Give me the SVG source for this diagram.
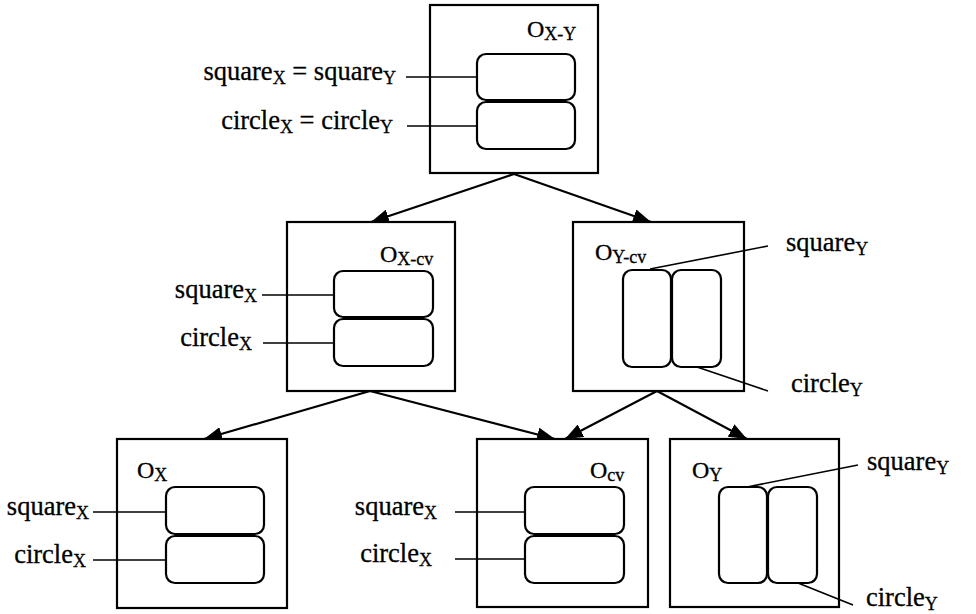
<svg xmlns="http://www.w3.org/2000/svg" width="976" height="614" viewBox="0 0 976 614">
  <style>
    .box { fill: #fff; stroke: #000; stroke-width: 2.2; }
    .slot { fill: #fff; stroke: #000; stroke-width: 2.2; }
    .lead { stroke: #000; stroke-width: 1.6; fill: none; }
    .edge { stroke: #000; stroke-width: 2.2; fill: none; marker-end: url(#head); }
    text { font-family: "Liberation Serif", "Times New Roman", serif; font-size: 26.5px; fill: #000; stroke: #000; stroke-width: 0.3; }
    .name { font-size: 24px; }
    .sub { font-size: 18px; }
    .end { text-anchor: end; }
  </style>
  <defs>
    <marker id="head" markerUnits="userSpaceOnUse" markerWidth="18" markerHeight="14" refX="18" refY="7" orient="auto">
      <path d="M0,0 L18,7 L0,14 z" fill="#000"/>
    </marker>
  </defs>

  <rect width="976" height="614" fill="#fff"/>

  <!-- connectors -->
  <g id="connectors">
    <line class="edge" x1="514" y1="174" x2="371" y2="222"/>
    <line class="edge" x1="514" y1="174" x2="651" y2="222"/>
    <line class="edge" x1="370" y1="391" x2="204" y2="439"/>
    <line class="edge" x1="370" y1="391" x2="555" y2="439"/>
    <line class="edge" x1="657" y1="391" x2="565" y2="439"/>
    <line class="edge" x1="657" y1="391" x2="747" y2="439"/>
  </g>

  <!-- O X-Y -->
  <g id="node-oxy">
    <rect class="box" x="430" y="5" width="168" height="168"/>
    <rect class="slot" x="477" y="54" width="98" height="46" rx="9"/>
    <rect class="slot" x="477" y="102" width="98" height="47" rx="9"/>
    <text class="name" x="527" y="37">O<tspan class="sub" dy="3">X-Y</tspan></text>
    <line class="lead" x1="406" y1="77" x2="477" y2="77"/>
    <line class="lead" x1="407" y1="126" x2="477" y2="126"/>
    <text class="end" x="396" y="80">square<tspan class="sub" dy="4">X</tspan><tspan dy="-4"> = square</tspan><tspan class="sub" dy="4">Y</tspan></text>
    <text class="end" x="393" y="129">circle<tspan class="sub" dy="4">X</tspan><tspan dy="-4"> = circle</tspan><tspan class="sub" dy="4">Y</tspan></text>
  </g>

  <!-- O X-cv -->
  <g id="node-oxcv">
    <rect class="box" x="287" y="222" width="168" height="169"/>
    <rect class="slot" x="334" y="271" width="99" height="46" rx="9"/>
    <rect class="slot" x="334" y="319" width="99" height="47" rx="9"/>
    <text class="name" x="380" y="262">O<tspan class="sub" dy="3">X-cv</tspan></text>
    <line class="lead" x1="262" y1="295" x2="334" y2="295"/>
    <line class="lead" x1="263" y1="343" x2="334" y2="343"/>
    <text class="end" x="257" y="298">square<tspan class="sub" dy="4">X</tspan></text>
    <text class="end" x="252" y="346">circle<tspan class="sub" dy="4">X</tspan></text>
  </g>

  <!-- O Y-cv -->
  <g id="node-oycv">
    <rect class="box" x="573" y="222" width="171" height="169"/>
    <rect class="slot" x="623" y="270" width="48" height="97" rx="9"/>
    <rect class="slot" x="672" y="270" width="49" height="97" rx="9"/>
    <text class="name" x="595" y="260">O<tspan class="sub" dy="3">Y-cv</tspan></text>
    <line class="lead" x1="650" y1="269" x2="768" y2="246"/>
    <line class="lead" x1="697" y1="367" x2="768" y2="391"/>
    <text x="786" y="251">square<tspan class="sub" dy="4">Y</tspan></text>
    <text x="791" y="392">circle<tspan class="sub" dy="4">Y</tspan></text>
  </g>

  <!-- O X -->
  <g id="node-ox">
    <rect class="box" x="117" y="439" width="170" height="169"/>
    <rect class="slot" x="166" y="487" width="98" height="47" rx="9"/>
    <rect class="slot" x="166" y="536" width="98" height="47" rx="9"/>
    <text class="name" x="137" y="478">O<tspan class="sub" dy="3">X</tspan></text>
    <line class="lead" x1="93" y1="512" x2="166" y2="512"/>
    <line class="lead" x1="93" y1="560" x2="166" y2="560"/>
    <text class="end" x="89" y="515">square<tspan class="sub" dy="4">X</tspan></text>
    <text class="end" x="86" y="563">circle<tspan class="sub" dy="4">X</tspan></text>
  </g>

  <!-- O cv -->
  <g id="node-ocv">
    <rect class="box" x="477" y="439" width="171" height="168"/>
    <rect class="slot" x="525" y="487" width="99" height="47" rx="9"/>
    <rect class="slot" x="525" y="536" width="99" height="47" rx="9"/>
    <text class="name" x="590" y="478">O<tspan class="sub" dy="3">cv</tspan></text>
    <line class="lead" x1="455" y1="512" x2="525" y2="512"/>
    <line class="lead" x1="455" y1="559" x2="525" y2="559"/>
    <text class="end" x="437" y="515">square<tspan class="sub" dy="4">X</tspan></text>
    <text class="end" x="432" y="562">circle<tspan class="sub" dy="4">X</tspan></text>
  </g>

  <!-- O Y -->
  <g id="node-oy">
    <rect class="box" x="670" y="439" width="169" height="168"/>
    <rect class="slot" x="719" y="487" width="48" height="96" rx="9"/>
    <rect class="slot" x="768" y="487" width="49" height="96" rx="9"/>
    <text class="name" x="692" y="478">O<tspan class="sub" dy="3">Y</tspan></text>
    <line class="lead" x1="747" y1="487" x2="858" y2="465"/>
    <line class="lead" x1="798" y1="583" x2="853" y2="605"/>
    <text x="867" y="470">square<tspan class="sub" dy="4">Y</tspan></text>
    <text x="866" y="606">circle<tspan class="sub" dy="4">Y</tspan></text>
  </g>
</svg>
